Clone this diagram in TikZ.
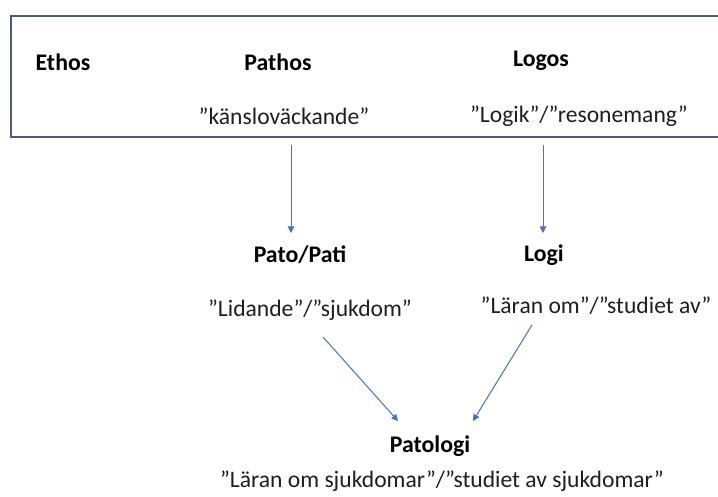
\documentclass[tikz,border=0pt]{standalone}
\usepackage{fontspec}
\setmainfont{Carlito}
\usetikzlibrary{arrows.meta}
\definecolor{boxcol}{HTML}{4A5A78}
\definecolor{arrcol}{HTML}{4472C4}
\tikzset{
  lbl/.style={font=\fontsize{23.8}{27}\selectfont\bfseries, text=black, inner sep=0pt},
  txt/.style={font=\fontsize{23.6}{27}\selectfont, text=black!88, inner sep=0pt},
  conn/.style={draw=arrcol, line width=1pt, -{Triangle[length=6.5pt,width=6.5pt]}},
}
\begin{document}
\begin{tikzpicture}[x=1pt,y=-1pt]
\useasboundingbox (0,0) rectangle (718,497);
\fill[white] (0,0) rectangle (718,497);
\draw[boxcol, line width=1.3pt] (11,16) rectangle (725,137);
\node[lbl] (ethos) at (63,62) {Ethos};
\node[lbl] (pathos) at (278,62) {Pathos};
\node[lbl] (logos) at (541,61) {Logos};
\node[txt] (kansl) at (284,116) {”känsloväckande”};
\node[txt] (logik) at (579,116) {”Logik”/”resonemang”};
\node[lbl] (pato) at (300,255) {Pato/Pati};
\node[lbl] (logi) at (544,255) {Logi};
\node[txt] (lidande) at (310,310) {”Lidande”/”sjukdom”};
\node[txt] (laran) at (596,306) {”Läran om”/”studiet av”};
\node[lbl] (patologi) at (430,446) {Patologi};
\node[txt] (bottom) at (442,481) {”Läran om sjukdomar”/”studiet av sjukdomar”};
\coordinate (a1s) at (291,145);
\coordinate (a1e) at (291,233);
\coordinate (a2s) at (543,145);
\coordinate (a2e) at (543,233);
\coordinate (a3s) at (323,337);
\coordinate (a3e) at (398,421);
\coordinate (a4s) at (532,325);
\coordinate (a4e) at (473,421);
\draw[conn] (a1s) -- (a1e);
\draw[conn] (a2s) -- (a2e);
\draw[conn] (a3s) -- (a3e);
\draw[conn] (a4s) -- (a4e);
\end{tikzpicture}
\end{document}
